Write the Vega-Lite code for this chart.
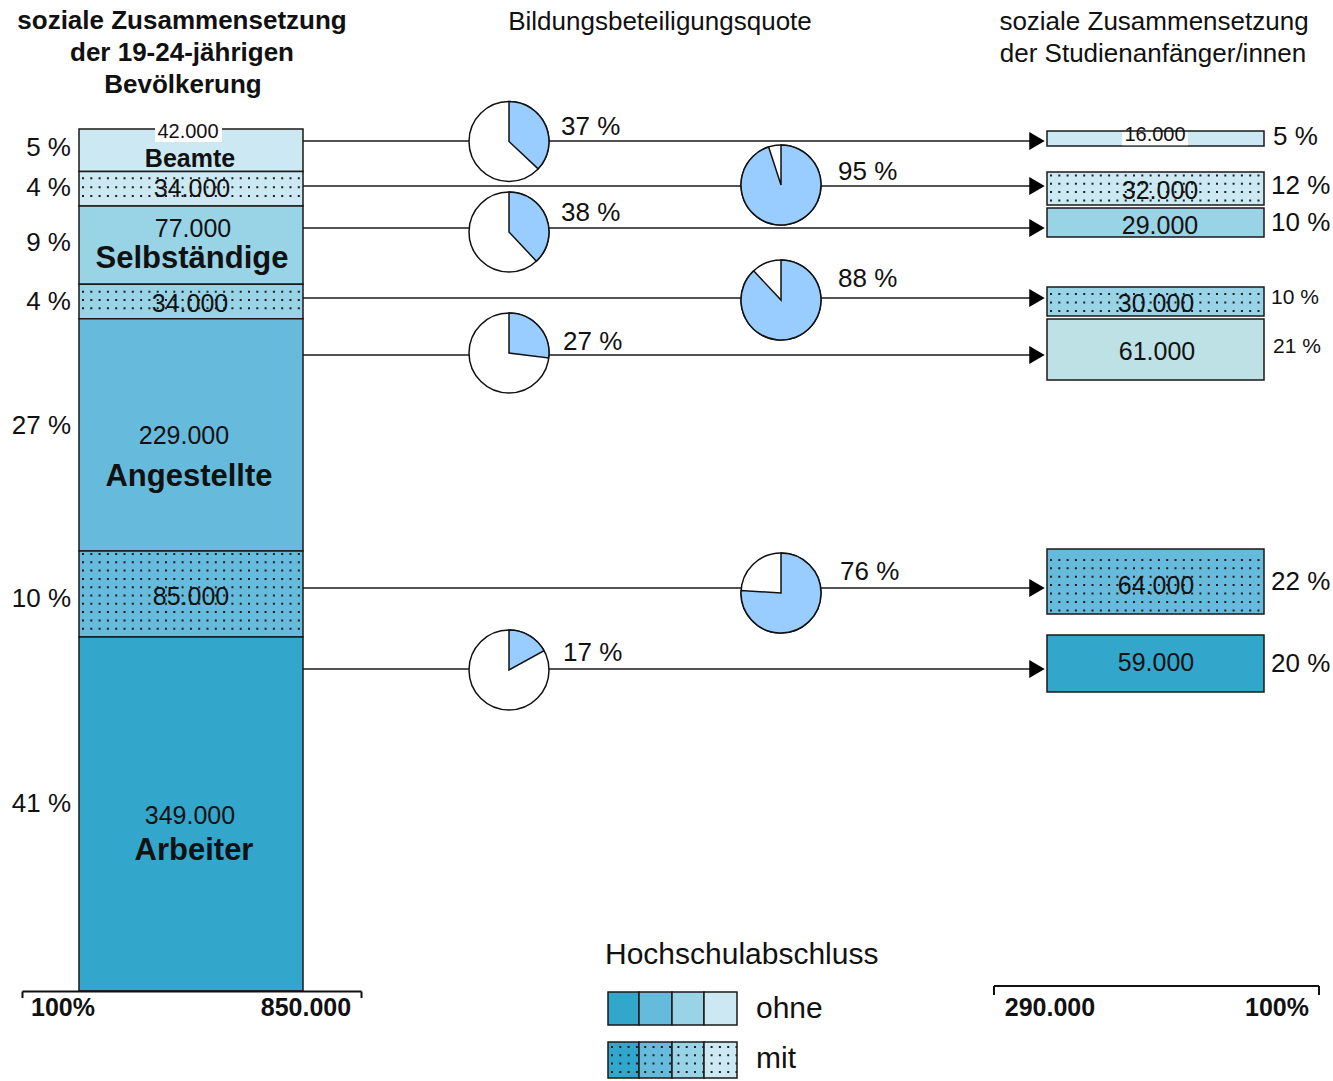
{
  "$schema": "https://vega.github.io/schema/vega-lite/v6.json",
  "width": 1333,
  "height": 1081,
  "autosize": {"type": "fit", "contains": "padding"},
  "padding": 0,
  "background": "white",
  "config": {"view": {"stroke": null}},
  "datasets": {
    "pfeile": [
      {"ziel": "Beamte ohne", "y": 11.83},
      {"ziel": "Beamte mit", "y": 56.21},
      {"ziel": "Selbständige ohne", "y": 97.62},
      {"ziel": "Selbständige mit", "y": 166.65},
      {"ziel": "Angestellte ohne", "y": 222.86},
      {"ziel": "Angestellte mit", "y": 452.61},
      {"ziel": "Arbeiter ohne", "y": 532.48}
    ],
    "quoten": [
      {"gruppe": "Beamte", "hs": "ohne", "von": 0, "quote": 37, "x": 509, "y": 12.3},
      {"gruppe": "Beamte", "hs": "mit", "von": 0, "quote": 95, "x": 781, "y": 55.22},
      {"gruppe": "Selbständige", "hs": "ohne", "von": 0, "quote": 38, "x": 509, "y": 101.57},
      {"gruppe": "Selbständige", "hs": "mit", "von": 0, "quote": 88, "x": 781, "y": 168.62},
      {"gruppe": "Angestellte", "hs": "ohne", "von": 0, "quote": 27, "x": 509, "y": 220.88},
      {"gruppe": "Angestellte", "hs": "mit", "von": 0, "quote": 76, "x": 781, "y": 457.54},
      {"gruppe": "Arbeiter", "hs": "ohne", "von": 0, "quote": 17, "x": 509, "y": 533.47}
    ],
    "links": [
      {"farbe": "Beamte", "hs": "ohne", "wert": 42000, "y0": 0, "y1": 42},
      {"farbe": "Beamte", "hs": "mit", "wert": 34000, "y0": 42, "y1": 76},
      {"farbe": "Selbständige", "hs": "ohne", "wert": 77000, "y0": 76, "y1": 153},
      {"farbe": "Selbständige", "hs": "mit", "wert": 34000, "y0": 153, "y1": 187},
      {"farbe": "Angestellte", "hs": "ohne", "wert": 229000, "y0": 187, "y1": 416},
      {"farbe": "Angestellte", "hs": "mit", "wert": 85000, "y0": 416, "y1": 501},
      {"farbe": "Arbeiter", "hs": "ohne", "wert": 349000, "y0": 501, "y1": 850}
    ],
    "rechts": [
      {"farbe": "Beamte", "hs": "ohne", "wert": 16000, "y0": 1.97, "y1": 16.76},
      {"farbe": "Beamte", "hs": "mit", "wert": 32000, "y0": 42.4, "y1": 74.94},
      {"farbe": "Selbständige", "hs": "ohne", "wert": 29000, "y0": 77.9, "y1": 106.5},
      {"farbe": "Selbständige", "hs": "mit", "wert": 30000, "y0": 155.8, "y1": 184.4},
      {"farbe": "Angestellte hell", "hs": "ohne", "wert": 61000, "y0": 187.36, "y1": 247.51},
      {"farbe": "Angestellte", "hs": "mit", "wert": 64000, "y0": 414.15, "y1": 478.25},
      {"farbe": "Arbeiter", "hs": "ohne", "wert": 59000, "y0": 498.96, "y1": 555.16}
    ],
    "legende": [
      {"farbe": "Arbeiter", "hs": "ohne", "x0": 608, "x1": 639, "y0": 851, "y1": 883.53},
      {"farbe": "Angestellte", "hs": "ohne", "x0": 639, "x1": 672, "y0": 851, "y1": 883.53},
      {"farbe": "Selbständige", "hs": "ohne", "x0": 672, "x1": 704, "y0": 851, "y1": 883.53},
      {"farbe": "Beamte", "hs": "ohne", "x0": 704, "x1": 737, "y0": 851, "y1": 883.53},
      {"farbe": "Arbeiter", "hs": "mit", "x0": 608, "x1": 639, "y0": 900.29, "y1": 935.79},
      {"farbe": "Angestellte", "hs": "mit", "x0": 639, "x1": 672, "y0": 900.29, "y1": 935.79},
      {"farbe": "Selbständige", "hs": "mit", "x0": 672, "x1": 704, "y0": 900.29, "y1": 935.79},
      {"farbe": "Beamte", "hs": "mit", "x0": 704, "x1": 737, "y0": 900.29, "y1": 935.79}
    ],
    "punkte": [
      {"bereich": "links", "y": 48.61}, {"bereich": "links", "y": 57.49}, {"bereich": "links", "y": 66.07},
      {"bereich": "links", "y": 160.44}, {"bereich": "links", "y": 168.62}, {"bereich": "links", "y": 176.81},
      {"bereich": "links", "y": 419.08}, {"bereich": "links", "y": 427.27}, {"bereich": "links", "y": 435.45},
      {"bereich": "links", "y": 443.64}, {"bereich": "links", "y": 451.82}, {"bereich": "links", "y": 460.01},
      {"bereich": "links", "y": 468.19}, {"bereich": "links", "y": 476.38}, {"bereich": "links", "y": 484.56},
      {"bereich": "links", "y": 492.75},
      {"bereich": "rechts", "y": 45.85}, {"bereich": "rechts", "y": 54.04}, {"bereich": "rechts", "y": 62.22},
      {"bereich": "rechts", "y": 70.41},
      {"bereich": "rechts", "y": 162.7}, {"bereich": "rechts", "y": 171.09}, {"bereich": "rechts", "y": 179.47},
      {"bereich": "rechts", "y": 424.9}, {"bereich": "rechts", "y": 433.18}, {"bereich": "rechts", "y": 441.46},
      {"bereich": "rechts", "y": 449.75}, {"bereich": "rechts", "y": 458.03}, {"bereich": "rechts", "y": 466.31},
      {"bereich": "rechts", "y": 474.69},
      {"bereich": "legende", "y": 905.22}, {"bereich": "legende", "y": 913.4}, {"bereich": "legende", "y": 921.59},
      {"bereich": "legende", "y": 929.87}
    ],
    "kasten": [
      {"x0": 155, "x1": 222, "y0": -5.92, "y1": 12.82},
      {"x0": 1122, "x1": 1188, "y0": 2.96, "y1": 16.0}
    ],
    "klammern": [
      {"x0": 22.5, "x1": 361.5, "y0": 850.5, "y1": 850.5},
      {"x0": 22.5, "x1": 22.5, "y0": 850.5, "y1": 856.9},
      {"x0": 361.5, "x1": 361.5, "y0": 850.5, "y1": 856.9},
      {"x0": 994, "x1": 1319, "y0": 845.07, "y1": 845.07},
      {"x0": 994, "x1": 994, "y0": 845.07, "y1": 853.95},
      {"x0": 1319, "x1": 1319, "y0": 845.07, "y1": 853.95}
    ],
    "texte": [
      {"stil": "titel_fett", "text": "soziale Zusammensetzung", "x": 182, "y": -106.5},
      {"stil": "titel_fett", "text": "der 19-24-jährigen", "x": 182, "y": -74.94},
      {"stil": "titel_fett", "text": "Bevölkerung", "x": 183, "y": -43.39},
      {"stil": "skala", "text": "100%", "x": 63, "y": 866.76},
      {"stil": "skala", "text": "850.000", "x": 306, "y": 866.76},
      {"stil": "skala", "text": "290.000", "x": 1050, "y": 866.76},
      {"stil": "skala", "text": "100%", "x": 1277, "y": 866.76},
      {"stil": "titel", "text": "Bildungsbeteiligungsquote", "x": 660, "y": -105.51},
      {"stil": "titel", "text": "soziale Zusammensetzung", "x": 1154, "y": -105.51},
      {"stil": "titel", "text": "der Studienanfänger/innen", "x": 1153, "y": -73.96},
      {"stil": "zahl", "text": "34.000", "x": 192, "y": 59.16},
      {"stil": "zahl", "text": "77.000", "x": 193, "y": 98.6},
      {"stil": "zahl", "text": "34.000", "x": 190, "y": 172.56},
      {"stil": "zahl", "text": "229.000", "x": 184, "y": 302.73},
      {"stil": "zahl", "text": "85.000", "x": 191, "y": 461.48},
      {"stil": "zahl", "text": "349.000", "x": 190, "y": 677.43},
      {"stil": "zahl", "text": "32.000", "x": 1160, "y": 61.14},
      {"stil": "zahl", "text": "29.000", "x": 1160, "y": 95.65},
      {"stil": "zahl", "text": "30.000", "x": 1156, "y": 172.56},
      {"stil": "zahl", "text": "61.000", "x": 1157, "y": 219.9},
      {"stil": "zahl", "text": "64.000", "x": 1156, "y": 450.64},
      {"stil": "zahl", "text": "59.000", "x": 1156, "y": 526.57},
      {"stil": "zahl_klein", "text": "42.000", "x": 188, "y": 2.96},
      {"stil": "zahl_klein", "text": "16.000", "x": 1155, "y": 5.92},
      {"stil": "gruppe_klein", "text": "Beamte", "x": 190, "y": 29.58},
      {"stil": "gruppe", "text": "Selbständige", "x": 192, "y": 128.4},
      {"stil": "gruppe", "text": "Angestellte", "x": 189, "y": 343.16},
      {"stil": "gruppe", "text": "Arbeiter", "x": 194, "y": 712.0},
      {"stil": "proz_links", "text": "5 %", "x": 71, "y": 18.74},
      {"stil": "proz_links", "text": "4 %", "x": 71, "y": 57.69},
      {"stil": "proz_links", "text": "9 %", "x": 71, "y": 112.41},
      {"stil": "proz_links", "text": "4 %", "x": 71, "y": 170.6},
      {"stil": "proz_links", "text": "27 %", "x": 71, "y": 292.4},
      {"stil": "proz_links", "text": "10 %", "x": 71, "y": 463.9},
      {"stil": "proz_links", "text": "41 %", "x": 71, "y": 665.6},
      {"stil": "proz", "text": "37 %", "x": 561, "y": -1.97},
      {"stil": "proz", "text": "38 %", "x": 561, "y": 82.83},
      {"stil": "proz", "text": "27 %", "x": 563, "y": 210.04},
      {"stil": "proz", "text": "17 %", "x": 563, "y": 516.71},
      {"stil": "proz", "text": "95 %", "x": 838, "y": 42.4},
      {"stil": "proz", "text": "88 %", "x": 838, "y": 147.91},
      {"stil": "proz", "text": "76 %", "x": 840, "y": 436.83},
      {"stil": "proz", "text": "5 %", "x": 1273, "y": 8.38},
      {"stil": "proz", "text": "12 %", "x": 1271, "y": 56.2},
      {"stil": "proz", "text": "10 %", "x": 1271, "y": 92.2},
      {"stil": "proz", "text": "22 %", "x": 1271, "y": 446.2},
      {"stil": "proz", "text": "20 %", "x": 1271, "y": 527.6},
      {"stil": "proz_klein", "text": "10 %", "x": 1271, "y": 166.2},
      {"stil": "proz_klein", "text": "21 %", "x": 1273, "y": 214.5},
      {"stil": "legende", "text": "Hochschulabschluss", "x": 605, "y": 814.5},
      {"stil": "legende", "text": "ohne", "x": 756, "y": 867.75},
      {"stil": "legende", "text": "mit", "x": 756, "y": 917.1}
    ]
  },
  "layer": [
    {
      "data": {"name": "pfeile"},
      "mark": {"type": "rule", "stroke": "#1a1a1a", "strokeWidth": 1.5},
      "encoding": {
        "x": {"datum": 303, "type": "quantitative", "scale": {"domain": [0, 1333], "nice": false, "zero": false}, "axis": null},
        "x2": {"datum": 1031},
        "y": {"field": "y", "type": "quantitative", "scale": {"domain": [-127.2, 938.73], "reverse": true, "nice": false, "zero": false}, "axis": null}
      }
    },
    {
      "data": {"name": "pfeile"},
      "mark": {"type": "point", "shape": "triangle-right", "filled": true, "color": "#000000", "opacity": 1, "size": 320},
      "encoding": {
        "x": {"datum": 1037, "type": "quantitative", "scale": {"domain": [0, 1333], "nice": false, "zero": false}, "axis": null},
        "y": {"field": "y", "type": "quantitative", "scale": {"domain": [-127.2, 938.73], "reverse": true, "nice": false, "zero": false}, "axis": null}
      }
    },
    {
      "data": {"name": "quoten"},
      "mark": {"type": "point", "shape": "circle", "size": 6400, "filled": true, "fill": "white", "opacity": 1, "stroke": "#111111", "strokeWidth": 1.5},
      "encoding": {
        "x": {"field": "x", "type": "quantitative", "scale": {"domain": [0, 1333], "nice": false, "zero": false}, "axis": null},
        "y": {"field": "y", "type": "quantitative", "scale": {"domain": [-127.2, 938.73], "reverse": true, "nice": false, "zero": false}, "axis": null}
      }
    },
    {
      "data": {"name": "quoten"},
      "mark": {"type": "arc", "outerRadius": 40, "fill": "#99ccff", "stroke": "#111111", "strokeWidth": 1.5},
      "encoding": {
        "x": {"field": "x", "type": "quantitative", "scale": {"domain": [0, 1333], "nice": false, "zero": false}, "axis": null},
        "y": {"field": "y", "type": "quantitative", "scale": {"domain": [-127.2, 938.73], "reverse": true, "nice": false, "zero": false}, "axis": null},
        "theta": {"field": "von", "type": "quantitative", "scale": {"domain": [0, 100]}},
        "theta2": {"field": "quote"}
      }
    },
    {
      "data": {"name": "links"},
      "mark": {"type": "rect", "stroke": "#1a1a1a", "strokeWidth": 1.5},
      "encoding": {
        "x": {"datum": 79, "type": "quantitative", "scale": {"domain": [0, 1333], "nice": false, "zero": false}, "axis": null},
        "x2": {"datum": 303},
        "y": {"field": "y0", "type": "quantitative", "scale": {"domain": [-127.2, 938.73], "reverse": true, "nice": false, "zero": false}, "axis": null},
        "y2": {"field": "y1"},
        "color": {"field": "farbe", "type": "nominal", "legend": null, "scale": {"domain": ["Arbeiter", "Angestellte", "Selbständige", "Beamte", "Angestellte hell"], "range": ["#33a6cc", "#66bbdc", "#99d3e6", "#cce8f2", "#bde1e5"]}}
      }
    },
    {
      "data": {"name": "rechts"},
      "mark": {"type": "rect", "stroke": "#1a1a1a", "strokeWidth": 1.5},
      "encoding": {
        "x": {"datum": 1047, "type": "quantitative", "scale": {"domain": [0, 1333], "nice": false, "zero": false}, "axis": null},
        "x2": {"datum": 1264},
        "y": {"field": "y0", "type": "quantitative", "scale": {"domain": [-127.2, 938.73], "reverse": true, "nice": false, "zero": false}, "axis": null},
        "y2": {"field": "y1"},
        "color": {"field": "farbe", "type": "nominal", "legend": null, "scale": {"domain": ["Arbeiter", "Angestellte", "Selbständige", "Beamte", "Angestellte hell"], "range": ["#33a6cc", "#66bbdc", "#99d3e6", "#cce8f2", "#bde1e5"]}}
      }
    },
    {
      "data": {"name": "legende"},
      "mark": {"type": "rect", "stroke": "#1a1a1a", "strokeWidth": 1.5},
      "encoding": {
        "x": {"field": "x0", "type": "quantitative", "scale": {"domain": [0, 1333], "nice": false, "zero": false}, "axis": null},
        "x2": {"field": "x1"},
        "y": {"field": "y0", "type": "quantitative", "scale": {"domain": [-127.2, 938.73], "reverse": true, "nice": false, "zero": false}, "axis": null},
        "y2": {"field": "y1"},
        "color": {"field": "farbe", "type": "nominal", "legend": null, "scale": {"domain": ["Arbeiter", "Angestellte", "Selbständige", "Beamte", "Angestellte hell"], "range": ["#33a6cc", "#66bbdc", "#99d3e6", "#cce8f2", "#bde1e5"]}}
      }
    },
    {
      "data": {"name": "punkte"},
      "transform": [{"filter": "datum.bereich === 'links'"}],
      "mark": {"type": "rule", "stroke": "#1e1e1e", "strokeWidth": 2, "strokeDash": [2, 6.3]},
      "encoding": {
        "x": {"datum": 82, "type": "quantitative", "scale": {"domain": [0, 1333], "nice": false, "zero": false}, "axis": null},
        "x2": {"datum": 302},
        "y": {"field": "y", "type": "quantitative", "scale": {"domain": [-127.2, 938.73], "reverse": true, "nice": false, "zero": false}, "axis": null}
      }
    },
    {
      "data": {"name": "punkte"},
      "transform": [{"filter": "datum.bereich === 'rechts'"}],
      "mark": {"type": "rule", "stroke": "#1e1e1e", "strokeWidth": 2, "strokeDash": [2, 6.3]},
      "encoding": {
        "x": {"datum": 1050, "type": "quantitative", "scale": {"domain": [0, 1333], "nice": false, "zero": false}, "axis": null},
        "x2": {"datum": 1263},
        "y": {"field": "y", "type": "quantitative", "scale": {"domain": [-127.2, 938.73], "reverse": true, "nice": false, "zero": false}, "axis": null}
      }
    },
    {
      "data": {"name": "punkte"},
      "transform": [{"filter": "datum.bereich === 'legende'"}],
      "mark": {"type": "rule", "stroke": "#1e1e1e", "strokeWidth": 2, "strokeDash": [2, 6.3]},
      "encoding": {
        "x": {"datum": 611, "type": "quantitative", "scale": {"domain": [0, 1333], "nice": false, "zero": false}, "axis": null},
        "x2": {"datum": 737},
        "y": {"field": "y", "type": "quantitative", "scale": {"domain": [-127.2, 938.73], "reverse": true, "nice": false, "zero": false}, "axis": null}
      }
    },
    {
      "data": {"name": "kasten"},
      "mark": {"type": "rect", "fill": "white"},
      "encoding": {
        "x": {"field": "x0", "type": "quantitative", "scale": {"domain": [0, 1333], "nice": false, "zero": false}, "axis": null},
        "x2": {"field": "x1"},
        "y": {"field": "y0", "type": "quantitative", "scale": {"domain": [-127.2, 938.73], "reverse": true, "nice": false, "zero": false}, "axis": null},
        "y2": {"field": "y1"}
      }
    },
    {
      "data": {"name": "klammern"},
      "mark": {"type": "rule", "stroke": "#111111", "strokeWidth": 2},
      "encoding": {
        "x": {"field": "x0", "type": "quantitative", "scale": {"domain": [0, 1333], "nice": false, "zero": false}, "axis": null},
        "x2": {"field": "x1"},
        "y": {"field": "y0", "type": "quantitative", "scale": {"domain": [-127.2, 938.73], "reverse": true, "nice": false, "zero": false}, "axis": null},
        "y2": {"field": "y1"}
      }
    },
    {
      "data": {"name": "texte"},
      "transform": [{"filter": "datum.stil === 'titel_fett'"}],
      "mark": {"type": "text", "font": "Liberation Sans", "fontWeight": "bold", "fontSize": 26, "align": "center", "baseline": "middle", "color": "#111111"},
      "encoding": {
        "x": {"field": "x", "type": "quantitative", "scale": {"domain": [0, 1333], "nice": false, "zero": false}, "axis": null},
        "y": {"field": "y", "type": "quantitative", "scale": {"domain": [-127.2, 938.73], "reverse": true, "nice": false, "zero": false}, "axis": null},
        "text": {"field": "text"}
      }
    },
    {
      "data": {"name": "texte"},
      "transform": [{"filter": "datum.stil === 'skala'"}],
      "mark": {"type": "text", "font": "Liberation Sans", "fontWeight": "bold", "fontSize": 25, "align": "center", "baseline": "middle", "color": "#111111"},
      "encoding": {
        "x": {"field": "x", "type": "quantitative", "scale": {"domain": [0, 1333], "nice": false, "zero": false}, "axis": null},
        "y": {"field": "y", "type": "quantitative", "scale": {"domain": [-127.2, 938.73], "reverse": true, "nice": false, "zero": false}, "axis": null},
        "text": {"field": "text"}
      }
    },
    {
      "data": {"name": "texte"},
      "transform": [{"filter": "datum.stil === 'titel'"}],
      "mark": {"type": "text", "font": "Liberation Sans", "fontSize": 26, "align": "center", "baseline": "middle", "color": "#111111"},
      "encoding": {
        "x": {"field": "x", "type": "quantitative", "scale": {"domain": [0, 1333], "nice": false, "zero": false}, "axis": null},
        "y": {"field": "y", "type": "quantitative", "scale": {"domain": [-127.2, 938.73], "reverse": true, "nice": false, "zero": false}, "axis": null},
        "text": {"field": "text"}
      }
    },
    {
      "data": {"name": "texte"},
      "transform": [{"filter": "datum.stil === 'zahl'"}],
      "mark": {"type": "text", "font": "Liberation Sans", "fontSize": 25, "align": "center", "baseline": "middle", "color": "#111111"},
      "encoding": {
        "x": {"field": "x", "type": "quantitative", "scale": {"domain": [0, 1333], "nice": false, "zero": false}, "axis": null},
        "y": {"field": "y", "type": "quantitative", "scale": {"domain": [-127.2, 938.73], "reverse": true, "nice": false, "zero": false}, "axis": null},
        "text": {"field": "text"}
      }
    },
    {
      "data": {"name": "texte"},
      "transform": [{"filter": "datum.stil === 'zahl_klein'"}],
      "mark": {"type": "text", "font": "Liberation Sans", "fontSize": 20, "align": "center", "baseline": "middle", "color": "#111111"},
      "encoding": {
        "x": {"field": "x", "type": "quantitative", "scale": {"domain": [0, 1333], "nice": false, "zero": false}, "axis": null},
        "y": {"field": "y", "type": "quantitative", "scale": {"domain": [-127.2, 938.73], "reverse": true, "nice": false, "zero": false}, "axis": null},
        "text": {"field": "text"}
      }
    },
    {
      "data": {"name": "texte"},
      "transform": [{"filter": "datum.stil === 'gruppe_klein'"}],
      "mark": {"type": "text", "font": "Liberation Sans", "fontWeight": "bold", "fontSize": 25, "align": "center", "baseline": "middle", "color": "#111111"},
      "encoding": {
        "x": {"field": "x", "type": "quantitative", "scale": {"domain": [0, 1333], "nice": false, "zero": false}, "axis": null},
        "y": {"field": "y", "type": "quantitative", "scale": {"domain": [-127.2, 938.73], "reverse": true, "nice": false, "zero": false}, "axis": null},
        "text": {"field": "text"}
      }
    },
    {
      "data": {"name": "texte"},
      "transform": [{"filter": "datum.stil === 'gruppe'"}],
      "mark": {"type": "text", "font": "Liberation Sans", "fontWeight": "bold", "fontSize": 31, "align": "center", "baseline": "middle", "color": "#111111"},
      "encoding": {
        "x": {"field": "x", "type": "quantitative", "scale": {"domain": [0, 1333], "nice": false, "zero": false}, "axis": null},
        "y": {"field": "y", "type": "quantitative", "scale": {"domain": [-127.2, 938.73], "reverse": true, "nice": false, "zero": false}, "axis": null},
        "text": {"field": "text"}
      }
    },
    {
      "data": {"name": "texte"},
      "transform": [{"filter": "datum.stil === 'proz_links'"}],
      "mark": {"type": "text", "font": "Liberation Sans", "fontSize": 26, "align": "right", "baseline": "middle", "color": "#111111"},
      "encoding": {
        "x": {"field": "x", "type": "quantitative", "scale": {"domain": [0, 1333], "nice": false, "zero": false}, "axis": null},
        "y": {"field": "y", "type": "quantitative", "scale": {"domain": [-127.2, 938.73], "reverse": true, "nice": false, "zero": false}, "axis": null},
        "text": {"field": "text"}
      }
    },
    {
      "data": {"name": "texte"},
      "transform": [{"filter": "datum.stil === 'proz'"}],
      "mark": {"type": "text", "font": "Liberation Sans", "fontSize": 26, "align": "left", "baseline": "middle", "color": "#111111"},
      "encoding": {
        "x": {"field": "x", "type": "quantitative", "scale": {"domain": [0, 1333], "nice": false, "zero": false}, "axis": null},
        "y": {"field": "y", "type": "quantitative", "scale": {"domain": [-127.2, 938.73], "reverse": true, "nice": false, "zero": false}, "axis": null},
        "text": {"field": "text"}
      }
    },
    {
      "data": {"name": "texte"},
      "transform": [{"filter": "datum.stil === 'proz_klein'"}],
      "mark": {"type": "text", "font": "Liberation Sans", "fontSize": 21, "align": "left", "baseline": "middle", "color": "#111111"},
      "encoding": {
        "x": {"field": "x", "type": "quantitative", "scale": {"domain": [0, 1333], "nice": false, "zero": false}, "axis": null},
        "y": {"field": "y", "type": "quantitative", "scale": {"domain": [-127.2, 938.73], "reverse": true, "nice": false, "zero": false}, "axis": null},
        "text": {"field": "text"}
      }
    },
    {
      "data": {"name": "texte"},
      "transform": [{"filter": "datum.stil === 'legende'"}],
      "mark": {"type": "text", "font": "Liberation Sans", "fontSize": 30, "align": "left", "baseline": "middle", "color": "#111111"},
      "encoding": {
        "x": {"field": "x", "type": "quantitative", "scale": {"domain": [0, 1333], "nice": false, "zero": false}, "axis": null},
        "y": {"field": "y", "type": "quantitative", "scale": {"domain": [-127.2, 938.73], "reverse": true, "nice": false, "zero": false}, "axis": null},
        "text": {"field": "text"}
      }
    }
  ]
}
